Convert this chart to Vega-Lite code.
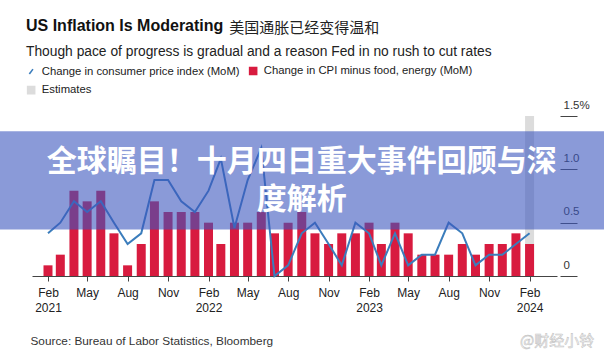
{
  "$schema": "https://vega.github.io/schema/vega-lite/v6.json",
  "width": 525,
  "height": 160,
  "autosize": {"type": "none"},
  "padding": {"left": 32, "top": 116, "right": 47, "bottom": 84},
  "background": "white",
  "config": {"view": {"stroke": null}, "font": "Liberation Sans"},
  "title": {
    "text": "US Inflation Is Moderating",
    "subtitle": "Though pace of progress is gradual and a reason Fed in no rush to cut rates",
    "anchor": "start",
    "frame": "group",
    "dx": -6,
    "dy": 42.5,
    "offset": 5,
    "font": "Liberation Sans",
    "fontSize": 16,
    "fontWeight": "bold",
    "color": "#111111",
    "subtitleFont": "Liberation Sans",
    "subtitleFontSize": 13.8,
    "subtitleColor": "#222222",
    "subtitlePadding": 11.5
  },
  "datasets": {
    "cpi": [
      {"date": "2021-02-01", "core": 0.1, "cpi": 0.4, "estimate": false},
      {"date": "2021-03-01", "core": 0.2, "cpi": 0.5, "estimate": false},
      {"date": "2021-04-01", "core": 0.8, "cpi": 0.7, "estimate": false},
      {"date": "2021-05-01", "core": 0.7, "cpi": 0.6, "estimate": false},
      {"date": "2021-06-01", "core": 0.8, "cpi": 0.7, "estimate": false},
      {"date": "2021-07-01", "core": 0.4, "cpi": 0.5, "estimate": false},
      {"date": "2021-08-01", "core": 0.1, "cpi": 0.3, "estimate": false},
      {"date": "2021-09-01", "core": 0.3, "cpi": 0.4, "estimate": false},
      {"date": "2021-10-01", "core": 0.7, "cpi": 0.9, "estimate": false},
      {"date": "2021-11-01", "core": 0.6, "cpi": 0.9, "estimate": false},
      {"date": "2021-12-01", "core": 0.6, "cpi": 0.7, "estimate": false},
      {"date": "2022-01-01", "core": 0.6, "cpi": 0.6, "estimate": false},
      {"date": "2022-02-01", "core": 0.5, "cpi": 0.8, "estimate": false},
      {"date": "2022-03-01", "core": 0.3, "cpi": 1.1, "estimate": false},
      {"date": "2022-04-01", "core": 0.5, "cpi": 0.45, "estimate": false},
      {"date": "2022-05-01", "core": 0.5, "cpi": 0.9, "estimate": false},
      {"date": "2022-06-01", "core": 0.6, "cpi": 1.2, "estimate": false},
      {"date": "2022-07-01", "core": 0.4, "cpi": 0.0, "estimate": false},
      {"date": "2022-08-01", "core": 0.5, "cpi": 0.1, "estimate": false},
      {"date": "2022-09-01", "core": 0.6, "cpi": 0.4, "estimate": false},
      {"date": "2022-10-01", "core": 0.4, "cpi": 0.5, "estimate": false},
      {"date": "2022-11-01", "core": 0.3, "cpi": 0.3, "estimate": false},
      {"date": "2022-12-01", "core": 0.4, "cpi": 0.1, "estimate": false},
      {"date": "2023-01-01", "core": 0.4, "cpi": 0.5, "estimate": false},
      {"date": "2023-02-01", "core": 0.5, "cpi": 0.4, "estimate": false},
      {"date": "2023-03-01", "core": 0.3, "cpi": 0.1, "estimate": false},
      {"date": "2023-04-01", "core": 0.5, "cpi": 0.4, "estimate": false},
      {"date": "2023-05-01", "core": 0.4, "cpi": 0.1, "estimate": false},
      {"date": "2023-06-01", "core": 0.2, "cpi": 0.2, "estimate": false},
      {"date": "2023-07-01", "core": 0.2, "cpi": 0.2, "estimate": false},
      {"date": "2023-08-01", "core": 0.2, "cpi": 0.5, "estimate": false},
      {"date": "2023-09-01", "core": 0.3, "cpi": 0.4, "estimate": false},
      {"date": "2023-10-01", "core": 0.2, "cpi": 0.1, "estimate": false},
      {"date": "2023-11-01", "core": 0.3, "cpi": 0.2, "estimate": false},
      {"date": "2023-12-01", "core": 0.3, "cpi": 0.2, "estimate": false},
      {"date": "2024-01-01", "core": 0.4, "cpi": 0.3, "estimate": false},
      {"date": "2024-02-01", "core": 0.3, "cpi": 0.4, "estimate": true}
    ],
    "overlay": [
      {"label": "banner", "start": "2020-10-01", "end": "2024-09-01"}
    ]
  },
  "layer": [
    {
      "data": {"name": "cpi"},
      "transform": [{"filter": "datum.estimate"}],
      "mark": {"type": "bar", "size": 9},
      "encoding": {
        "x": {
          "field": "date",
          "type": "temporal",
          "scale": {
            "type": "utc",
            "domain": [
              {"year": 2021, "month": 1, "date": 7, "utc": true},
              {"year": 2024, "month": 3, "date": 23, "utc": true}
            ]
          },
          "axis": {
            "values": [
              {"year": 2021, "month": 2, "date": 1, "utc": true},
              {"year": 2021, "month": 5, "date": 1, "utc": true},
              {"year": 2021, "month": 8, "date": 1, "utc": true},
              {"year": 2021, "month": 11, "date": 1, "utc": true},
              {"year": 2022, "month": 2, "date": 1, "utc": true},
              {"year": 2022, "month": 5, "date": 1, "utc": true},
              {"year": 2022, "month": 8, "date": 1, "utc": true},
              {"year": 2022, "month": 11, "date": 1, "utc": true},
              {"year": 2023, "month": 2, "date": 1, "utc": true},
              {"year": 2023, "month": 5, "date": 1, "utc": true},
              {"year": 2023, "month": 8, "date": 1, "utc": true},
              {"year": 2023, "month": 11, "date": 1, "utc": true},
              {"year": 2024, "month": 2, "date": 1, "utc": true}
            ],
            "labelExpr": "[utcFormat(datum.value, '%b'), utcmonth(datum.value) == 1 ? utcFormat(datum.value, '%Y') : '']",
            "labelFontSize": 12,
            "labelColor": "#222222",
            "labelLineHeight": 15,
            "labelPadding": 6,
            "labelOverlap": false,
            "labelFlush": false,
            "tickSize": 5,
            "tickColor": "#444444",
            "domainColor": "#444444",
            "grid": false,
            "title": "Source: Bureau of Labor Statistics, Bloomberg",
            "titleAnchor": "start",
            "titleAlign": "left",
            "titleX": -2,
            "titleY": 68,
            "titleBaseline": "alphabetic",
            "titleFontSize": 11.8,
            "titleFontWeight": "normal",
            "titleColor": "#333333"
          }
        },
        "y": {
          "datum": 1.5,
          "type": "quantitative",
          "scale": {"domain": [0, 1.5], "nice": false},
          "axis": {
            "orient": "right",
            "values": [0, 0.5, 1, 1.5],
            "offset": 3,
            "tickSize": 17,
            "tickColor": "#444444",
            "domain": false,
            "grid": false,
            "labelPadding": -14,
            "labelAlign": "left",
            "labelBaseline": "alphabetic",
            "labelOffset": -8,
            "labelFontSize": 11.5,
            "labelColor": "#333333",
            "labelFlush": false,
            "labelOverlap": false,
            "labelExpr": "datum.value == 1.5 ? '1.5%' : datum.value == 0 ? '0' : format(datum.value, '.1f')",
            "title": null
          }
        },
        "color": {
          "datum": "Estimates",
          "scale": {
            "domain": ["Change in consumer price index (MoM)", "Change in CPI minus food, energy (MoM)", "Estimates"],
            "range": ["#3b7dbc", "#d81b3f", "#dcdcdc"]
          },
          "legend": {
            "orient": "none",
            "legendX": -6.5,
            "legendY": -51,
            "title": null,
            "direction": "horizontal",
            "columns": 2,
            "columnPadding": 5,
            "rowPadding": 4.5,
            "padding": 0,
            "symbolSize": 64,
            "labelOffset": 5,
            "labelFontSize": 11.3,
            "labelColor": "#222222",
            "labelFont": "Liberation Sans",
            "labelLimit": 400,
            "encode": {
              "symbols": {
                "update": {
                  "shape": {"signal": "datum.value === 'Change in consumer price index (MoM)' ? 'M-0.45,0.6L0.45,-0.6' : 'square'"},
                  "size": {"signal": "datum.value === 'Change in consumer price index (MoM)' ? 64 : 49"},
                  "fill": {"signal": "datum.value === 'Change in consumer price index (MoM)' ? 'transparent' : (datum.value === 'Estimates' ? '#dcdcdc' : '#d81b3f')"},
                  "stroke": {"signal": "datum.value === 'Change in consumer price index (MoM)' ? '#4a8cc8' : 'transparent'"},
                  "strokeWidth": {"value": 1.6},
                  "opacity": {"value": 1}
                }
              }
            }
          }
        }
      }
    },
    {
      "data": {"name": "cpi"},
      "mark": {"type": "bar", "size": 9},
      "encoding": {
        "x": {"field": "date", "type": "temporal"},
        "y": {"field": "core", "type": "quantitative", "axis": {"title": null}},
        "color": {"datum": "Change in CPI minus food, energy (MoM)"}
      }
    },
    {
      "data": {"name": "cpi"},
      "mark": {"type": "line", "strokeWidth": 2},
      "encoding": {
        "x": {"field": "date", "type": "temporal"},
        "y": {"field": "cpi", "type": "quantitative", "axis": {"title": null}},
        "color": {"datum": "Change in consumer price index (MoM)"}
      }
    },
    {
      "data": {"name": "overlay"},
      "mark": {"type": "rect", "color": "#3c57be", "opacity": 0.6},
      "encoding": {
        "x": {"field": "start", "type": "temporal"},
        "x2": {"field": "end"},
        "y": {"datum": 1.356, "type": "quantitative"},
        "y2": {"datum": 0.437}
      }
    },
    {
      "data": {"name": "overlay"},
      "mark": {
        "type": "text",
        "text": ["全球瞩目！十月四日重大事件回顾与深", "度解析"],
        "font": "Noto Sans CJK SC",
        "fontSize": 30,
        "fontWeight": "bold",
        "color": "white",
        "align": "center",
        "baseline": "alphabetic",
        "lineHeight": 38
      },
      "encoding": {
        "x": {"datum": {"year": 2022, "month": 9, "date": 1, "utc": true}, "type": "temporal"},
        "y": {"datum": 0.984, "type": "quantitative"}
      }
    },
    {
      "data": {"name": "overlay"},
      "mark": {
        "type": "text",
        "text": "美国通胀已经变得温和",
        "font": "Noto Sans CJK SC",
        "fontSize": 15,
        "color": "#222222",
        "align": "left",
        "baseline": "alphabetic"
      },
      "encoding": {
        "x": {"datum": {"year": 2022, "month": 3, "date": 20, "utc": true}, "type": "temporal"},
        "y": {"datum": 2.275, "type": "quantitative"}
      }
    },
    {
      "data": {"name": "overlay"},
      "mark": {
        "type": "text",
        "text": "@财经小铃",
        "font": "Noto Sans CJK SC",
        "fontSize": 15,
        "fill": "#ffffff",
        "stroke": "#c4c4c4",
        "strokeWidth": 0.6,
        "align": "right",
        "baseline": "alphabetic"
      },
      "encoding": {
        "x": {"datum": {"year": 2024, "month": 6, "date": 27, "utc": true}, "type": "temporal"},
        "y": {"datum": -0.66, "type": "quantitative"}
      }
    }
  ]
}
